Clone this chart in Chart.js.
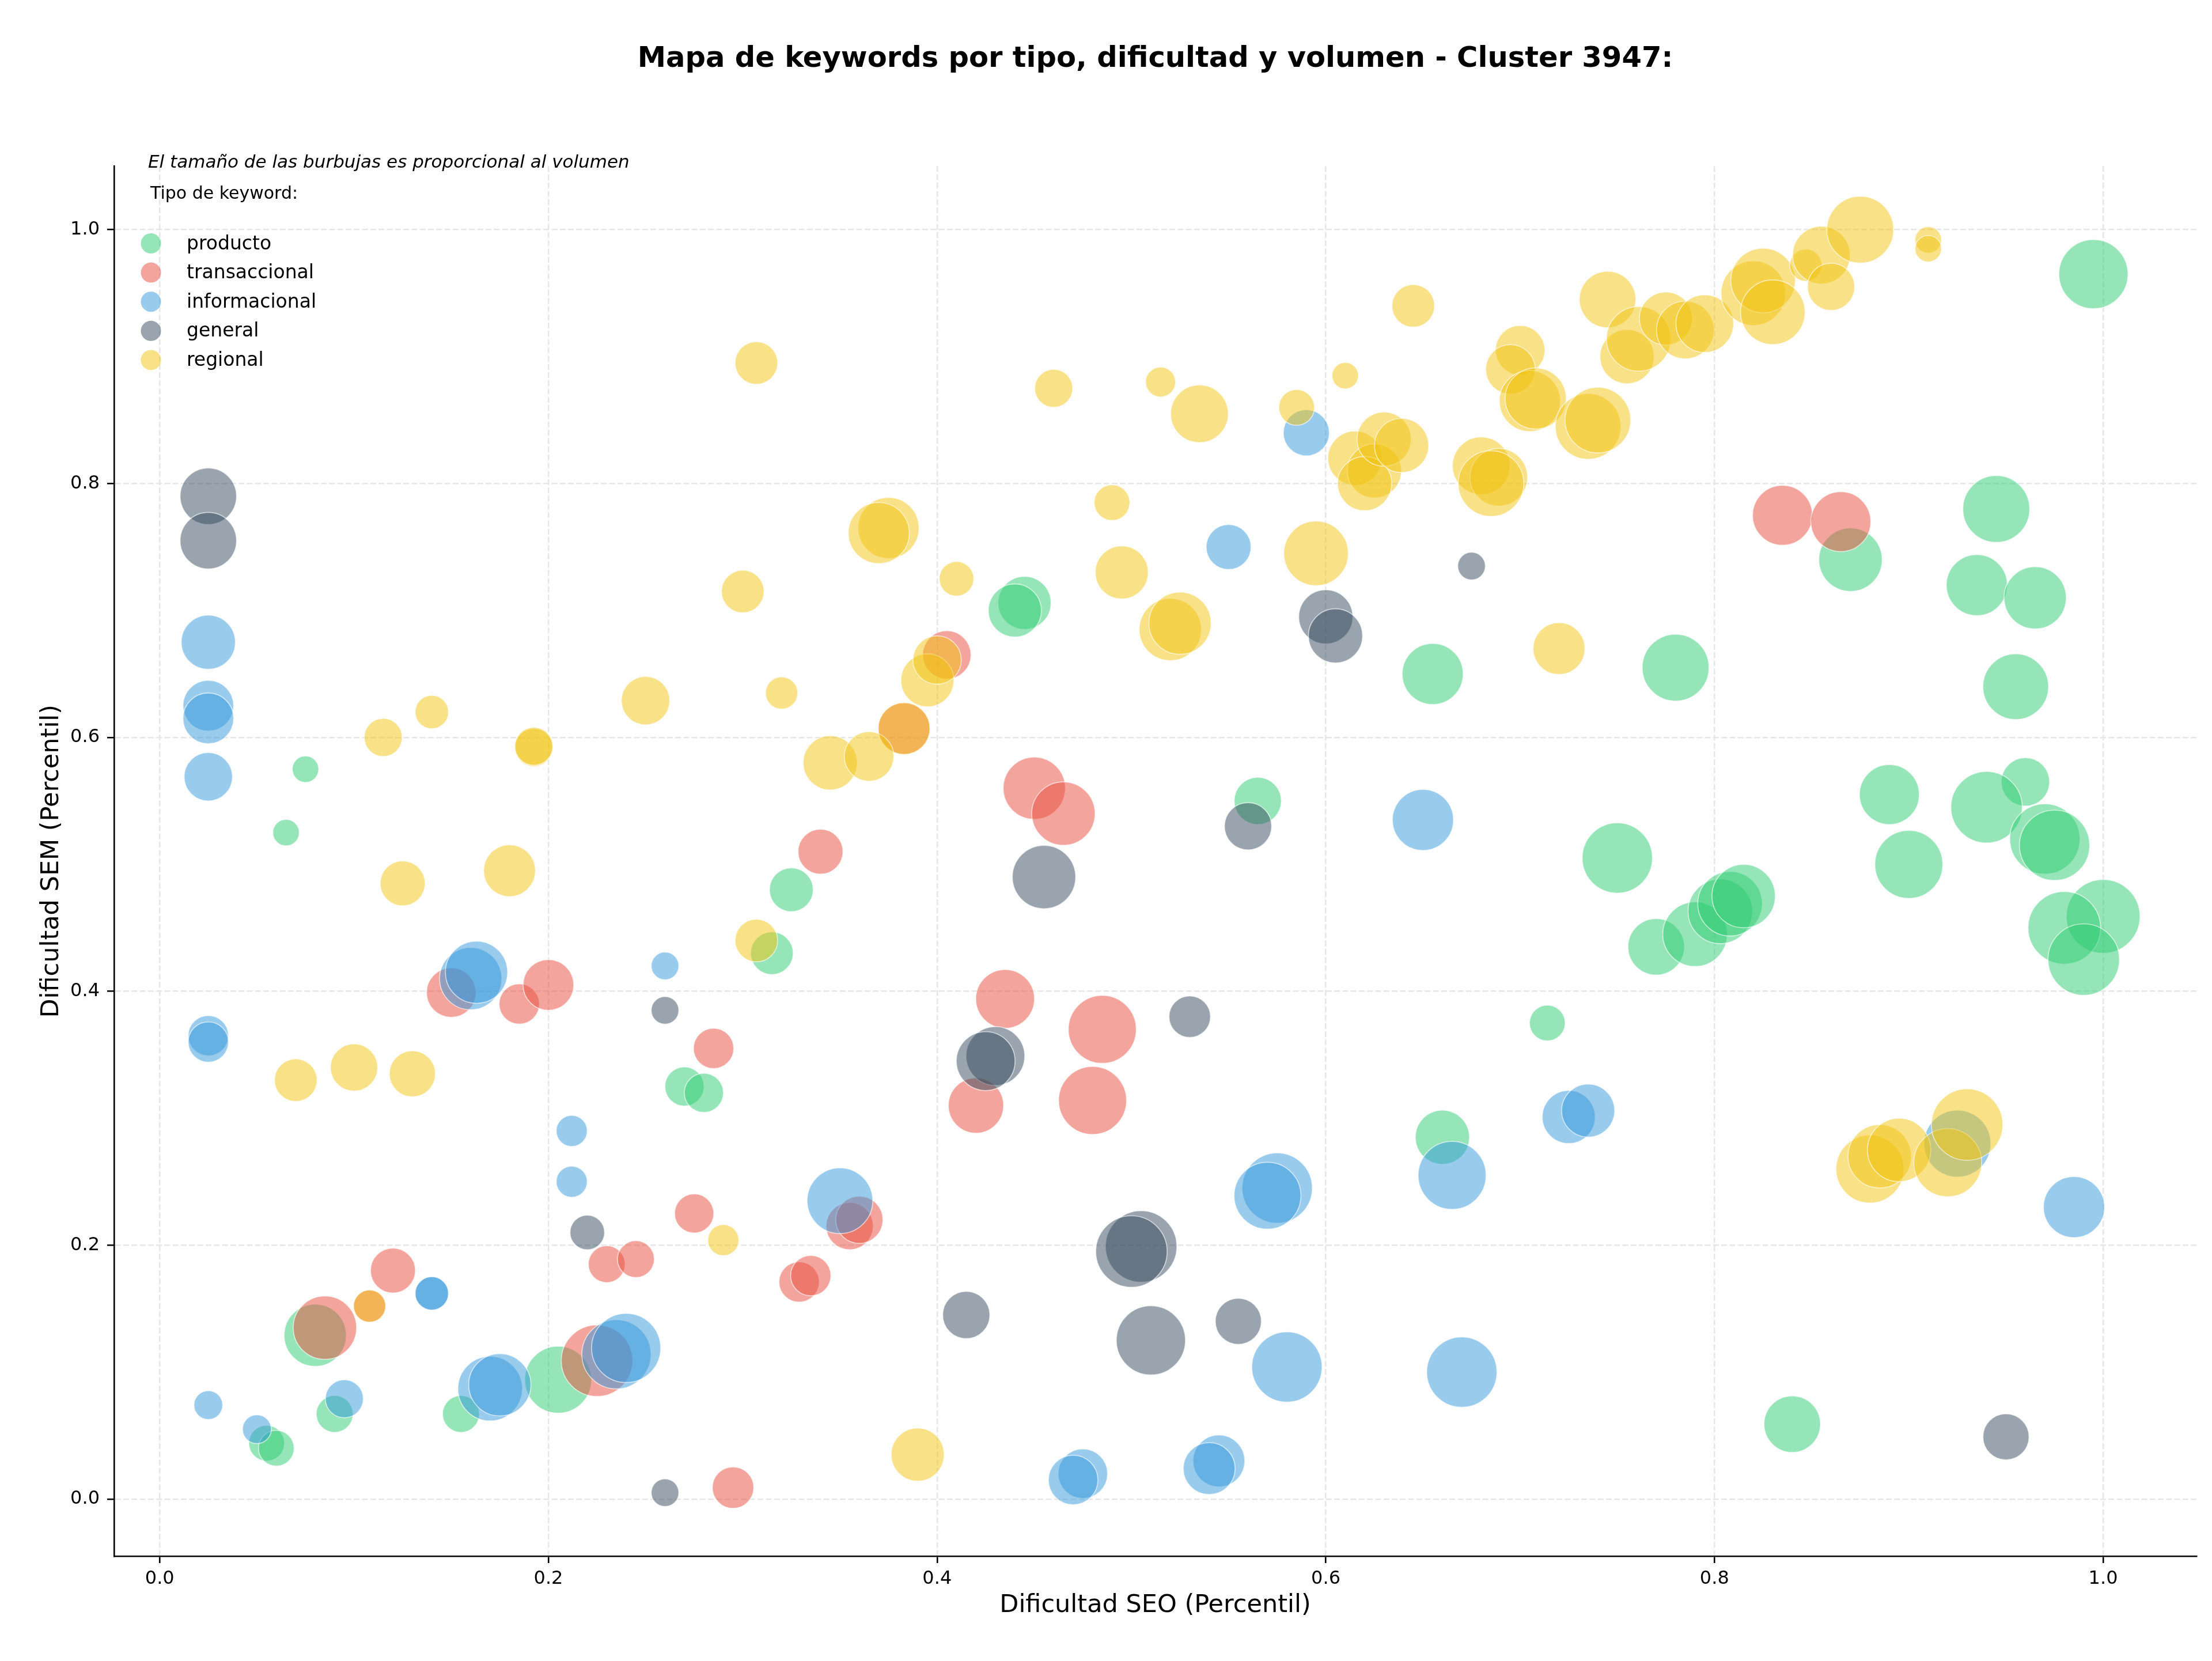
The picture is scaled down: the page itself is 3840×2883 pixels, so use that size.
<!DOCTYPE html>
<html>
<head>
<meta charset="utf-8">
<title>Mapa de keywords - Cluster 3947</title>
<script src="https://cdn.jsdelivr.net/npm/chart.js@4.4.1/dist/chart.umd.min.js"></script>
<style>
  html, body { margin: 0; padding: 0; background: #fff; }
</style>
</head>
<body>
<canvas id="bubbles" width="3840" height="2883"></canvas>
<script>
// ------------------------------------------------------------
// DATA
// ------------------------------------------------------------
const typeLabels = ['producto', 'transaccional', 'informacional', 'general', 'regional'];
const typeColors = ['#2ecc71', '#e74c3c', '#3498db', '#34495e', '#f1c40f'];
const xTicks = [0, 0.2, 0.4, 0.6, 0.8, 1.0];
const yTicks = [0, 0.2, 0.4, 0.6, 0.8, 1.0];

// producto
const prodX   = [0.995,0.945,0.935,0.965,0.870,0.955,0.780,0.655,0.445,0.440,0.565,0.750,0.770,0.790,0.803,0.808,0.815,0.890,0.960,0.940,0.970,0.975,0.900,1.000,0.980,0.990,0.325,0.315,0.270,0.280,0.714,0.660,0.840,0.075,0.065,0.080,0.205,0.155,0.090,0.055,0.060];
const prodY   = [0.965,0.780,0.720,0.710,0.740,0.640,0.655,0.650,0.706,0.700,0.550,0.505,0.435,0.445,0.463,0.469,0.475,0.555,0.565,0.545,0.520,0.515,0.500,0.459,0.450,0.425,0.480,0.430,0.325,0.320,0.375,0.285,0.059,0.575,0.525,0.129,0.094,0.067,0.067,0.044,0.040];
const prodVol = [900,841,702,729,756,812,841,702,529,529,420,930,600,784,784,784,756,676,441,961,930,930,870,1024,992,961,361,342,289,289,240,552,600,132,132,729,841,256,256,240,240];

// transaccional
const tranX   = [0.835,0.865,0.405,0.383,0.450,0.465,0.340,0.150,0.185,0.200,0.435,0.485,0.285,0.420,0.480,0.275,0.355,0.360,0.120,0.230,0.245,0.329,0.335,0.085,0.225,0.295,0.108];
const tranY   = [0.775,0.770,0.665,0.607,0.560,0.540,0.510,0.399,0.390,0.405,0.394,0.370,0.355,0.310,0.314,0.225,0.215,0.220,0.180,0.185,0.189,0.171,0.176,0.135,0.109,0.009,0.152];
const tranVol = [676,676,441,506,729,756,380,462,306,484,650,870,306,576,870,289,420,420,380,256,256,306,306,756,961,324,196];

// informacional
const infoX   = [0.590,0.550,0.025,0.025,0.025,0.025,0.650,0.160,0.163,0.260,0.025,0.025,0.212,0.212,0.140,0.140,0.350,0.725,0.735,0.575,0.570,0.665,0.985,0.925,0.580,0.670,0.170,0.175,0.235,0.240,0.095,0.025,0.050,0.475,0.470,0.545,0.540];
const infoY   = [0.840,0.750,0.675,0.625,0.615,0.569,0.535,0.410,0.415,0.420,0.365,0.360,0.290,0.250,0.162,0.162,0.235,0.301,0.306,0.245,0.239,0.255,0.230,0.280,0.104,0.100,0.087,0.090,0.114,0.119,0.079,0.074,0.055,0.020,0.015,0.030,0.024];
const infoVol = [400,380,552,484,484,441,702,729,729,144,306,306,182,182,210,210,812,529,529,930,841,870,702,841,930,930,784,729,900,900,272,156,156,462,462,506,506];

// general
const genX    = [0.025,0.025,0.600,0.605,0.675,0.560,0.455,0.260,0.530,0.430,0.425,0.220,0.505,0.500,0.415,0.510,0.555,0.950,0.260];
const genY    = [0.790,0.755,0.695,0.680,0.735,0.530,0.490,0.385,0.380,0.349,0.345,0.210,0.199,0.195,0.145,0.125,0.140,0.049,0.005];
const genVol  = [600,600,552,552,144,420,756,144,324,650,650,225,961,961,420,900,400,400,144];

// regional
const regX    = [0.307,0.460,0.515,0.535,0.585,0.610,0.645,0.745,0.700,0.695,0.705,0.708,0.735,0.740,0.755,0.761,0.775,0.785,0.795,0.820,0.825,0.830,0.847,0.855,0.860,0.875,0.910,0.910,0.615,0.625,0.620,0.630,0.639,0.680,0.689,0.685,0.595,0.490,0.495,0.520,0.525,0.410,0.375,0.370,0.300,0.320,0.395,0.400,0.383,0.250,0.345,0.365,0.140,0.115,0.1925,0.1925,0.180,0.125,0.307,0.070,0.100,0.130,0.290,0.390,0.720,0.880,0.885,0.895,0.920,0.930,0.108];
const regY    = [0.895,0.875,0.880,0.855,0.860,0.885,0.940,0.945,0.905,0.890,0.865,0.867,0.845,0.850,0.900,0.914,0.930,0.921,0.926,0.950,0.960,0.935,0.972,0.980,0.955,1.000,0.992,0.985,0.820,0.810,0.800,0.835,0.830,0.814,0.805,0.800,0.745,0.785,0.730,0.685,0.690,0.725,0.765,0.761,0.715,0.635,0.645,0.661,0.607,0.629,0.580,0.585,0.620,0.600,0.592,0.593,0.495,0.485,0.440,0.330,0.340,0.335,0.204,0.035,0.670,0.260,0.270,0.275,0.265,0.295,0.152];
const regVol  = [342,272,169,625,240,132,342,600,462,462,702,702,812,812,552,784,529,625,625,784,784,784,196,625,420,841,132,132,552,552,552,552,552,625,625,812,784,240,529,729,729,225,702,702,342,196,529,441,506,441,552,462,210,272,272,272,506,380,342,342,420,400,182,529,506,870,756,756,870,961,196];

const chartTitle = 'Mapa de keywords por tipo, dificultad y volumen - Cluster 3947:';
const noteText = 'El tamaño de las burbujas es proporcional al volumen';
const legendTitle = 'Tipo de keyword:';

// ------------------------------------------------------------
// HELPERS
// ------------------------------------------------------------
const BUBBLE_K = 2; // radius = K * sqrt(volume)
function toPoints(xs, ys, vols) {
  return xs.map((x, i) => ({ x: x, y: ys[i], r: BUBBLE_K * Math.sqrt(vols[i]) }));
}
function alpha(hex, a) {
  const n = parseInt(hex.slice(1), 16);
  return `rgba(${(n >> 16) & 255},${(n >> 8) & 255},${n & 255},${a})`;
}

const series = [
  toPoints(prodX, prodY, prodVol),
  toPoints(tranX, tranY, tranVol),
  toPoints(infoX, infoY, infoVol),
  toPoints(genX, genY, genVol),
  toPoints(regX, regY, regVol)
];

// legend + note drawn inside the plot, top-left
const keyLegend = {
  id: 'keyLegend',
  afterDatasetsDraw(chart) {
    const { ctx, chartArea: ca } = chart;
    ctx.save();
    ctx.textAlign = 'left';
    ctx.textBaseline = 'alphabetic';
    ctx.fillStyle = '#000';
    ctx.font = 'italic 31px "DejaVu Sans"';
    ctx.fillText(noteText, ca.left + 59, ca.top + 2);
    ctx.font = '30px "DejaVu Sans"';
    ctx.fillText(legendTitle, ca.left + 63, ca.top + 56);
    ctx.font = '33px "DejaVu Sans"';
    typeLabels.forEach((lab, i) => {
      const y = ca.top + 134 + i * 50.6;
      ctx.beginPath();
      ctx.arc(ca.left + 64, y, 17.5, 0, Math.PI * 2);
      ctx.fillStyle = alpha(typeColors[i], 0.5);
      ctx.fill();
      ctx.fillStyle = '#000';
      ctx.fillText(lab, ca.left + 126, y + 10);
    });
    ctx.restore();
  }
};

Chart.defaults.font.family = '"DejaVu Sans", sans-serif';
Chart.defaults.color = '#000';

const gridOpts = { color: '#e6e6e6', lineWidth: 2.5, drawTicks: true, tickLength: 12, tickColor: '#000', tickWidth: 2.6, tickBorderDash: [] };
const borderOpts = { display: true, color: '#000', width: 2.6, dash: [10, 4.3] };

new Chart(document.getElementById('bubbles'), {
  type: 'bubble',
  data: {
    datasets: typeLabels.map((lab, i) => ({
      label: lab,
      data: series[i],
      backgroundColor: alpha(typeColors[i], 0.5),
      borderColor: 'rgba(255,255,255,0.6)',
      borderWidth: 1.7,
      hoverRadius: 0,
      order: typeLabels.length - i
    }))
  },
  options: {
    responsive: false,
    animation: false,
    events: [],
    layout: { autoPadding: false, padding: { top: 0, left: 0, right: 27, bottom: 0 } },
    plugins: {
      legend: { display: false },
      tooltip: { enabled: false },
      title: {
        display: true, text: chartTitle, fullSize: false,
        font: { size: 49.6, weight: 'bold' }, color: '#000',
        padding: { top: 73, bottom: 156 }
      }
    },
    scales: {
      x: {
        type: 'linear', min: -0.0235, max: 1.048,
        afterBuildTicks: s => { s.ticks = xTicks.map(v => ({ value: v })); },
        afterFit: s => { s.height = 182; },
        grid: gridOpts, border: borderOpts,
        ticks: { font: { size: 32 }, padding: 8, maxRotation: 0, autoSkip: false, callback: v => v.toFixed(1) },
        title: { display: true, text: 'Dificultad SEO (Percentil)', font: { size: 43 }, padding: { top: 0, bottom: 70 } }
      },
      y: {
        type: 'linear', min: -0.045, max: 1.05,
        afterBuildTicks: s => { s.ticks = yTicks.map(v => ({ value: v })); },
        afterFit: s => { s.width = 198; },
        grid: gridOpts, border: borderOpts,
        ticks: { font: { size: 32 }, padding: 13, autoSkip: false, callback: v => v.toFixed(1) },
        title: { display: true, text: 'Dificultad SEM (Percentil)', font: { size: 43 }, padding: { top: 64, bottom: 0 } }
      }
    }
  },
  plugins: [keyLegend]
});
</script>
</body>
</html>
